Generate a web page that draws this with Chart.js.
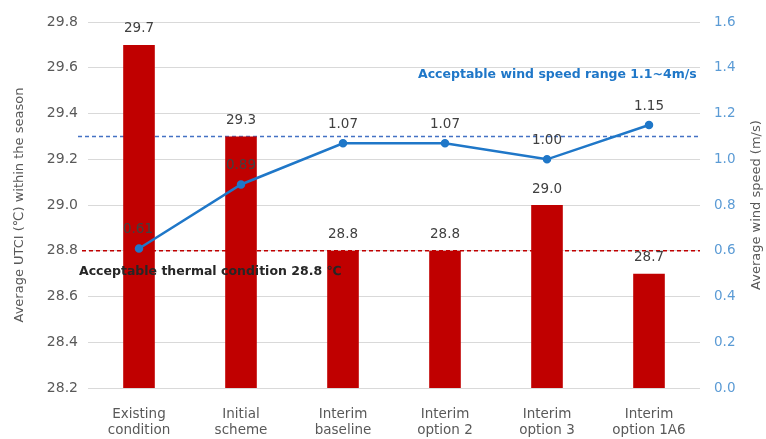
<!DOCTYPE html>
<html><head><meta charset="utf-8">
<script src="https://cdn.jsdelivr.net/npm/chart.js@4/dist/chart.umd.min.js"></script>
<style>html,body{margin:0;padding:0;background:#fff}#wrap{width:766px;height:439px}</style>
</head><body><div id="wrap"><canvas id="c" width="766" height="439"></canvas></div>
<script>
const categories = [["Existing","condition"],["Initial","scheme"],["Interim","baseline"],["Interim","option 2"],["Interim","option 3"],["Interim","option 1A6"]];
const utciValues = [29.7, 29.3, 28.8, 28.8, 29.0, 28.7];
const windValues = [0.61, 0.89, 1.07, 1.07, 1.00, 1.15];
const utciTarget = 28.8;
const windTarget = 1.1;
const utciLabels = ["29.7","29.3","28.8","28.8","29.0","28.7"];
const windLabels = ["0.61","0.89","1.07","1.07","1.00","1.15"];

const FONT = "'DejaVu Sans', sans-serif";
const GRAY = '#595959';
const BLUE = '#1f77c8';
const RED = '#c00000';

const overlay = {
  id:'overlay',
  beforeDatasetsDraw(chart){
    const ctx = chart.ctx, a = chart.chartArea;
    const yL = chart.scales.y, yR = chart.scales.y1;
    ctx.save();
    ctx.setLineDash([4,3]);
    ctx.lineWidth = 1.5;
    ctx.strokeStyle = '#4472c4';
    let py = yR.getPixelForValue(windTarget);
    ctx.beginPath(); ctx.moveTo(78, py); ctx.lineTo(a.right, py); ctx.stroke();
    ctx.strokeStyle = RED;
    py = yL.getPixelForValue(utciTarget);
    ctx.beginPath(); ctx.moveTo(82, py); ctx.lineTo(a.right, py); ctx.stroke();
    ctx.restore();
  },
  afterDatasetsDraw(chart){
    const ctx = chart.ctx, a = chart.chartArea;
    const yL = chart.scales.y, yR = chart.scales.y1;
    ctx.save();
    ctx.font = "13.5px " + FONT;
    ctx.fillStyle = '#404040';
    ctx.textAlign = 'center'; ctx.textBaseline = 'middle';
    const bars = chart.getDatasetMeta(0).data;
    bars.forEach((b,i)=>{ ctx.fillText(utciLabels[i], b.x, b.y - 16); });
    const pts = chart.getDatasetMeta(1).data;
    pts.forEach((p,i)=>{ ctx.fillText(windLabels[i], p.x + (i===0?-1:0), p.y - 19); });
    ctx.font = "bold 12.5px " + FONT;
    ctx.textAlign = 'left';
    ctx.fillStyle = '#262626';
    ctx.fillText("Acceptable thermal condition 28.8 ℃", 79, yL.getPixelForValue(utciTarget) + 21);
    ctx.fillStyle = BLUE;
    ctx.fillText("Acceptable wind speed range 1.1~4m/s", 418, 75);
    ctx.font = "13px " + FONT;
    ctx.fillStyle = GRAY;
    ctx.textAlign = 'center';
    ctx.translate(757, (a.top + a.bottom)/2);
    ctx.rotate(-Math.PI/2);
    ctx.fillText("Average wind speed (m/s)", 0, 0);
    ctx.restore();
  }
};

new Chart(document.getElementById('c'), {
  data:{
    labels: categories,
    datasets:[
      {type:'bar', data: utciValues, backgroundColor: RED, yAxisID:'y', barPercentage:0.31, categoryPercentage:1, order:2},
      {type:'line', data: windValues, borderColor: BLUE, backgroundColor: BLUE, borderWidth:2.5, pointRadius:3, pointBackgroundColor: BLUE, yAxisID:'y1', order:1, tension:0}
    ]
  },
  options:{
    responsive:false, animation:false,
    layout:{padding:{top:14,right:0,left:0,bottom:0}},
    plugins:{legend:{display:false}, tooltip:{enabled:false}},
    scales:{
      x:{grid:{display:false}, border:{display:false},
         ticks:{color:GRAY, font:{family:FONT, size:13.5}, maxRotation:0, padding:10},
         afterFit(s){ s.height = 51; }},
      y:{position:'left', min:28.2, max:29.8,
         ticks:{stepSize:0.2, color:GRAY, font:{family:FONT, size:14}, padding:10, callback:v=>v.toFixed(1)},
         grid:{color:'#d9d9d9', drawTicks:false}, border:{display:false},
         title:{display:true, text:'Average UTCI (℃) within the season', color:GRAY, font:{family:FONT, size:13}, padding:{top:12,bottom:0}},
         afterFit(s){ s.width = 88; }},
      y1:{position:'right', min:0, max:1.6,
         ticks:{stepSize:0.2, color:'#5b9bd5', font:{family:FONT, size:13.5}, padding:14, callback:v=>v.toFixed(1)},
         grid:{display:false, drawTicks:false}, border:{display:false},
         title:{display:false},
         afterFit(s){ s.width = 66; }}
    }
  },
  plugins:[overlay]
});
</script></body></html>
